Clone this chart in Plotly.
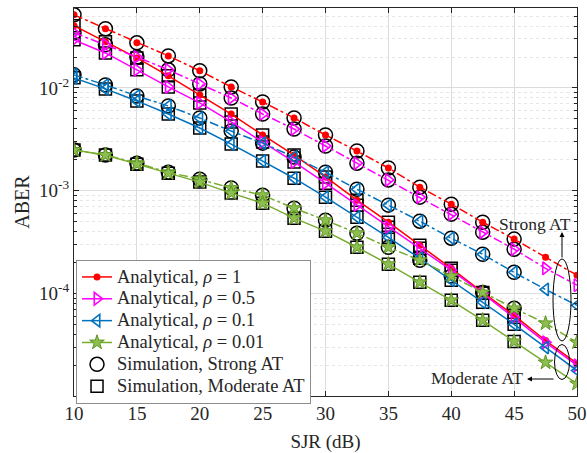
import plotly.graph_objects as go

# SJR grid (dB)
sjr = [10, 12.5, 15, 17.5, 20, 22.5, 25, 27.5, 30, 32.5, 35, 37.5, 40, 42.5, 45, 47.5, 50]

# Analytical ABER, strong atmospheric turbulence
strong_rho_1 = [0.0515, 0.0377, 0.0275, 0.0205, 0.0147, 0.01023, 0.00730, 0.00510, 0.00348,
                0.00243, 0.00166, 0.00108, 0.000738, 0.000493, 0.000337, 0.000225, 0.000150]
strong_rho_05 = [0.0344, 0.0263, 0.0200, 0.0150, 0.01094, 0.00798, 0.00557, 0.00398, 0.00272,
                 0.00185, 0.00127, 0.000864, 0.000590, 0.000394, 0.000269, 0.000175, 0.000120]
strong_rho_01 = [0.01340, 0.01069, 0.00835, 0.00667, 0.00509, 0.00380, 0.00290, 0.00212, 0.00151,
                 0.00103, 0.000722, 0.000504, 0.000344, 0.000240, 0.000160, 0.000109, 0.0000763]
strong_rho_001 = [0.00248, 0.00222, 0.00185, 0.00151, 0.00129, 0.00106, 0.000903, 0.000675, 0.000515,
                  0.000385, 0.000281, 0.000210, 0.000147, 0.000102, 0.0000714, 0.0000510, 0.0000333]

# Analytical ABER, moderate atmospheric turbulence
moderate_rho_1 = [0.0403, 0.0281, 0.0196, 0.0131, 0.00855, 0.00557, 0.00348, 0.00222, 0.00136,
                  0.000807, 0.000493, 0.000294, 0.000175, 0.000102, 0.0000610, 0.0000347, 0.0000207]
moderate_rho_05 = [0.0294, 0.0219, 0.0150, 0.01023, 0.00714, 0.00466, 0.00297, 0.00190, 0.00118,
                   0.000722, 0.000441, 0.000275, 0.000168, 0.000100, 0.0000583, 0.0000333, 0.0000199]
moderate_rho_01 = [0.01253, 0.00978, 0.00747, 0.00557, 0.00407, 0.00284, 0.00194, 0.00132, 0.000864,
                   0.000551, 0.000351, 0.000219, 0.000134, 0.0000817, 0.0000499, 0.0000297, 0.0000177]
moderate_rho_001 = [0.00248, 0.00222, 0.00181, 0.00148, 0.00121, 0.000946, 0.000755, 0.000539, 0.000403,
                    0.000281, 0.000192, 0.000128, 0.0000855, 0.0000546, 0.0000340, 0.0000212, 0.0000132]

# Monte-Carlo simulation points (SJR 10..45 dB), they sit on the analytical curves
sim_sjr = sjr[:15]

rho_labels = ["1", "0.5", "0.1", "0.01"]
colors = ["#FF0000", "#FF00FF", "#0072BD", "#77AC30"]
strong = [strong_rho_1, strong_rho_05, strong_rho_01, strong_rho_001]
moderate = [moderate_rho_1, moderate_rho_05, moderate_rho_01, moderate_rho_001]

markers = [
    dict(symbol="circle", size=7, color="#FF0000", line=dict(width=0)),
    dict(symbol="triangle-right-open", size=11, color="#FF00FF", line=dict(width=1.6)),
    dict(symbol="triangle-left-open", size=11, color="#0072BD", line=dict(width=1.6)),
    dict(symbol="star", size=11, color="#8DBF4E", line=dict(width=1, color="#5E9424")),
]

LEG = '<span style="font-size:18.5px">{}</span>'

fig = go.Figure()

# simulation markers (drawn below the analytical curves)
for i in range(4):
    fig.add_trace(go.Scatter(
        x=sim_sjr, y=strong[i][:15], mode="markers",
        marker=dict(symbol="circle-open", size=14, color="black", line=dict(width=1.5)),
        name=LEG.format("Simulation, Strong AT"), legendgroup="sim_s",
        showlegend=(i == 0), legendrank=5,
    ))
    fig.add_trace(go.Scatter(
        x=sim_sjr, y=moderate[i][:15], mode="markers",
        marker=dict(symbol="square-open", size=12, color="black", line=dict(width=1.5)),
        name=LEG.format("Simulation, Moderate AT"), legendgroup="sim_m",
        showlegend=(i == 0), legendrank=6,
    ))

# analytical curves: dash-dot = strong AT, solid = moderate AT
for i in range(4):
    fig.add_trace(go.Scatter(
        x=sjr, y=strong[i], mode="lines+markers",
        line=dict(color=colors[i], width=1.5, dash="dashdot"),
        marker=markers[i], showlegend=False, legendgroup=f"a{i}",
    ))
    fig.add_trace(go.Scatter(
        x=sjr, y=moderate[i], mode="lines+markers",
        line=dict(color=colors[i], width=1.5),
        marker=markers[i], name=LEG.format(f"Analytical, <i>ρ</i> = {rho_labels[i]}"),
        legendgroup=f"a{i}", legendrank=i + 1,
    ))

axis_color = "#262626"
grid_color = "#DCDCDC"

minor_vals = [m * 10 ** e for e in (-5, -4, -3, -2) for m in range(2, 10) if m * 10 ** e <= 0.06]

fig.update_xaxes(
    range=[10, 50], tickvals=[10, 15, 20, 25, 30, 35, 40, 45, 50],
    ticks="inside", ticklen=5, tickcolor=axis_color, mirror="allticks",
    showline=True, linecolor=axis_color, linewidth=1, automargin=False,
    showgrid=True, gridcolor=grid_color, gridwidth=1, zeroline=False,
    title=dict(text="SJR (dB)", font=dict(size=19), standoff=13),
    tickfont=dict(size=19),
)
fig.update_yaxes(
    type="log", range=[-5, -1.2218],
    tickvals=[1e-4, 1e-3, 1e-2], ticktext=["10<sup>-4</sup>", "10<sup>-3</sup>", "10<sup>-2</sup>"],
    ticks="inside", ticklen=5, tickcolor=axis_color, mirror="allticks",
    showline=True, linecolor=axis_color, linewidth=1, automargin=False,
    showgrid=True, gridcolor=grid_color, gridwidth=1, zeroline=False,
    minor=dict(tickvals=minor_vals, ticks="inside", ticklen=3, tickcolor=axis_color,
               showgrid=True, gridcolor="#E6E6E6", griddash="dot", gridwidth=1),
    title=dict(text="ABER", font=dict(size=20), standoff=4),
    tickfont=dict(size=19),
)

# turbulence group markers
fig.add_shape(type="circle", xref="paper", yref="paper",
              x0=0.9523, x1=0.9881, y0=0.1418, y1=0.3531,
              line=dict(color="black", width=1))
fig.add_shape(type="circle", xref="paper", yref="paper",
              x0=0.9553, x1=0.9851, y0=0.0425, y1=0.1327,
              line=dict(color="black", width=1))

fig.add_annotation(xref="paper", yref="paper", x=0.9165, y=0.443, text="Strong AT",
                   xanchor="center", yanchor="middle",
                   showarrow=False, font=dict(size=17.5, color="#262626"))
fig.add_annotation(xref="paper", yref="paper", x=0.9702, y=0.4227, text="",
                   showarrow=True, ax=0, ay=27, arrowhead=2, arrowsize=1, arrowwidth=1,
                   arrowcolor="black")
fig.add_annotation(xref="paper", yref="paper", x=0.801, y=0.0464, text="Moderate AT",
                   xanchor="center", yanchor="middle",
                   showarrow=False, font=dict(size=17.5, color="#262626"))
fig.add_annotation(xref="paper", yref="paper", x=0.9006, y=0.0438, text="",
                   showarrow=True, ax=28, ay=0, arrowhead=2, arrowsize=1, arrowwidth=1,
                   arrowcolor="black")

fig.update_layout(
    width=587, height=453,
    margin=dict(l=74, r=10, t=8, b=57),
    plot_bgcolor="white", paper_bgcolor="white",
    font=dict(family="Liberation Serif", size=18, color="#262626"),
    legend=dict(x=0.004, y=0.3505, xanchor="left", yanchor="top",
                bgcolor="white", bordercolor="#8C8C8C", borderwidth=1,
                font=dict(size=14.5), tracegroupgap=0, itemwidth=30),
)

fig.write_html("out.html")
